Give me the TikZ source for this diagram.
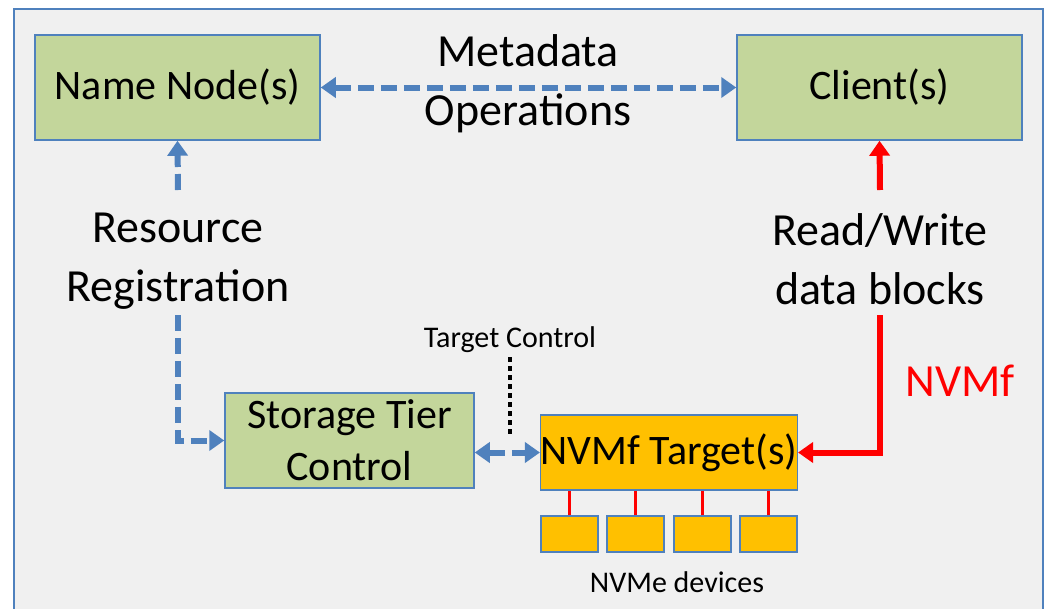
\documentclass[tikz,border=0pt]{standalone}
\usepackage{fontspec}
\setmainfont{Carlito}
\usetikzlibrary{arrows.meta}
\definecolor{frameblue}{RGB}{79,129,189}
\definecolor{boxgreen}{RGB}{195,214,155}
\definecolor{boxorange}{RGB}{255,192,0}
\definecolor{panelgray}{RGB}{240,240,240}
\tikzset{
  greenbox/.style={draw=frameblue, line width=1.5pt, fill=boxgreen, inner sep=0pt,
    font=\fontsize{42}{50}\selectfont, align=center},
  orangebox/.style={draw=frameblue, line width=1.5pt, fill=boxorange, inner sep=0pt,
    font=\fontsize{42}{50}\selectfont},
  devbox/.style={draw=frameblue, line width=1.2pt, fill=boxorange, inner sep=0pt,
    minimum width=57pt, minimum height=36pt},
  biglabel/.style={font=\fontsize{46}{59}\selectfont, align=center, inner sep=0pt},
  smalllabel/.style={font=\fontsize{30}{36}\selectfont, inner sep=0pt},
  bluelink/.style={draw=frameblue, line width=6pt, dash pattern=on 16pt off 7pt,
    arrows={-Triangle[length=15pt,width=20pt]}},
  bluelinkboth/.style={bluelink, arrows={Triangle[length=15pt,width=20pt]-Triangle[length=15pt,width=20pt]}},
  redlink/.style={draw=red, line width=6pt, arrows={-Triangle[length=15pt,width=20pt]}},
  devlink/.style={draw=red, line width=2.5pt},
  ctrllink/.style={draw=black, line width=4.5pt, dash pattern=on 4.5pt off 4.5pt},
}
\begin{document}
\begin{tikzpicture}[x=1pt, y=-1pt]
  % canvas and outer panel
  \useasboundingbox (0,0) rectangle (1046,608);
  \fill[white] (0,0) rectangle (1046,608);
  \draw[frameblue, line width=2pt, fill=panelgray] (14,9) rectangle (1043,620);

  % main components
  \node[greenbox, minimum width=285pt, minimum height=105pt] (nn) at (177.5,87.5) {Name Node(s)};
  \node[greenbox, minimum width=285pt, minimum height=105pt] (cl) at (879.5,87.5) {Client(s)};
  \node[greenbox, minimum width=249pt, minimum height=95pt] (st) at (349.5,440.5) {Storage Tier\\[2pt]Control};
  \node[orangebox, minimum width=256pt, minimum height=75pt] (tg) at (669,452.5) {NVMf Target(s)};

  % NVMe devices
  \node[devbox] (d1) at (569.5,534) {};
  \node[devbox] (d2) at (635.5,534) {};
  \node[devbox] (d3) at (702.5,534) {};
  \node[devbox] (d4) at (768.5,534) {};
  \foreach \d in {d1,d2,d3,d4}
    \draw[devlink] (\d.north) -- (\d.north |- tg.south);

  % labels
  \node[biglabel] (meta) at (528,84) {Metadata\\Operations};
  \node[biglabel] (res) at (178,261) {Resource\\Registration};
  \node[biglabel] (rw) at (880,259) {Read/Write\\data blocks};
  \node[biglabel, text=red] (nvmf) at (960,381) {NVMf};
  \node[smalllabel] (tc) at (510,340) {Target Control};
  \node[smalllabel] (devs) at (677,582) {NVMe devices};

  % connector end points
  \coordinate (restop) at (178,190);
  \coordinate (resbot) at (178,315);
  \coordinate (rwtop) at (880,190);
  \coordinate (rwbot) at (880,315);
  \coordinate (tcend) at (510,435);

  % connectors
  \draw[bluelinkboth] (nn.east) -- (cl.west);
  \draw[bluelink] (restop) -- (nn.south);
  \draw[bluelink] (resbot) |- (st.west);
  \draw[bluelinkboth] (st.east |- tg.west) -- (tg.west);
  \draw[ctrllink] ([yshift=-4pt]tc.south) -- (tcend);
  \draw[redlink] (rwtop) -- (cl.south);
  \draw[redlink] (rwbot) |- (tg.east);
\end{tikzpicture}
\end{document}
